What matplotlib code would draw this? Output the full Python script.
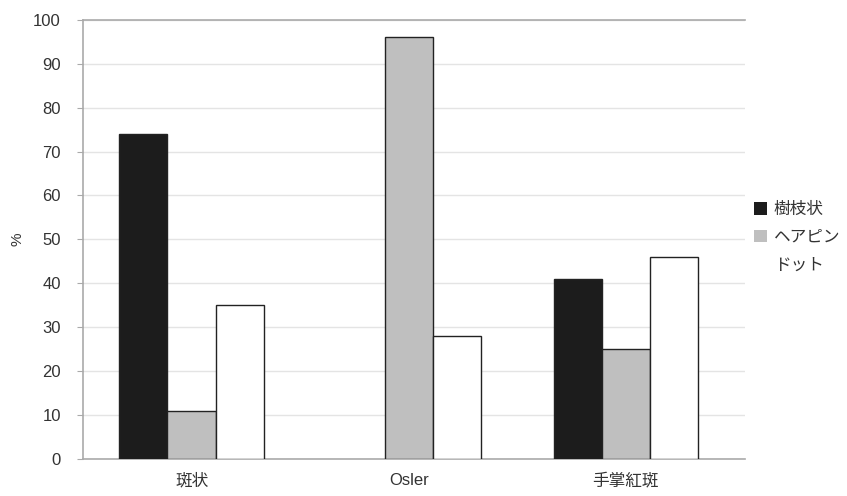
import matplotlib
matplotlib.use("Agg")
import matplotlib.pyplot as plt
import numpy as np

plt.rcParams['font.family'] = ['Liberation Sans', 'Noto Sans CJK JP', 'DejaVu Sans']

categories = ['斑状', 'Osler', '手掌紅斑']
series_names = ['樹枝状', 'ヘアピン', 'ドット']
dendritic = [74, 0, 41]
hairpin = [11, 96, 25]
dot = [35, 28, 46]
yticks = [0, 10, 20, 30, 40, 50, 60, 70, 80, 90, 100]

colors = ['#1c1c1c', '#bfbfbf', '#ffffff']

fig = plt.figure(figsize=(8.47, 4.96), dpi=100)
ax = fig.add_axes([0.098, 0.075, 0.782, 0.885])

x = np.arange(len(categories))
w = 0.222
for i, (vals, c, name) in enumerate(zip([dendritic, hairpin, dot], colors, series_names)):
    lw = [1.0 if v > 0 else 0.0 for v in vals]
    ax.bar(x + (i - 1) * w, vals, width=w, color=c, edgecolor='#222222',
           linewidth=lw, label=name, zorder=3)

ax.set_xlim(-0.5, 2.55)
ax.set_ylim(0, 100)
ax.set_yticks(yticks)
ax.set_xticks(x)
ax.set_xticklabels(categories, fontsize=12, color='#333333')
ax.tick_params(axis='x', length=0, pad=10)
ax.tick_params(axis='y', length=4, color='#aaaaaa', labelsize=12, pad=12,
               labelcolor='#333333')
ax.yaxis.grid(True, color='#e4e4e4', linewidth=1.0, zorder=0)
for s in ax.spines.values():
    s.set_color('#aaaaaa')
    s.set_linewidth(1.2)
ax.spines['right'].set_visible(False)
ax.set_ylabel('%', fontsize=11, color='#333333')
ax.yaxis.set_label_coords(-0.088, 0.5)

leg = ax.legend(loc='center left', bbox_to_anchor=(0.99, 0.505), frameon=False,
                fontsize=12, handlelength=0.8, handleheight=0.8,
                handletextpad=0.4, labelspacing=0.75)
for h in leg.legend_handles:
    h.set_edgecolor('none')
    h.set_linewidth(0)
leg.legend_handles[2].set_facecolor('#ffffff')
for t in leg.get_texts():
    t.set_color('#333333')

fig.savefig('out.png', dpi=100)
